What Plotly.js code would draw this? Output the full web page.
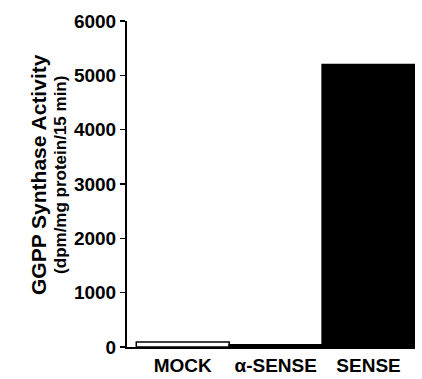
<!DOCTYPE html>
<html>
<head>
<meta charset="utf-8">
<script src="https://cdn.plot.ly/plotly-3.0.1.min.js"></script>
<style>html,body{margin:0;padding:0;background:#fff;}#chart{width:422px;height:379px;}</style>
</head>
<body>
<div id="chart"></div>
<script>
const categories = ["MOCK", "\u03B1-SENSE", "SENSE"];
const activity = [90, 40, 5200];
const fillColors = ["#ffffff", "#000000", "#000000"];
const yTickValues = [0, 1000, 2000, 3000, 4000, 5000, 6000];
const yTitleMain = "GGPP Synthase Activity";
const yTitleSub = "(dpm/mg protein/15 min)";

const fontFam = "Arial, 'Liberation Sans', Helvetica, sans-serif";

const trace = {
  type: "bar",
  x: categories,
  y: activity,
  width: 1,
  marker: { color: fillColors, line: { color: "#000", width: 1.5 } },
  hoverinfo: "none"
};

const layout = {
  width: 422, height: 379,
  margin: { l: 127, r: 7, t: 21, b: 32, pad: 0 },
  paper_bgcolor: "#fff", plot_bgcolor: "#fff",
  showlegend: false,
  bargap: 0,
  font: { family: fontFam, color: "#000" },
  xaxis: {
    type: "category",
    range: [-0.6, 2.5],
    showline: true, linecolor: "#000", linewidth: 2,
    ticks: "", showgrid: false, zeroline: false,
    ticklabelstandoff: 0,
    tickfont: { family: fontFam, size: 19, weight: "bold", color: "#000" }
  },
  yaxis: {
    range: [0, 6000],
    tickvals: yTickValues,
    ticktext: yTickValues.map(String),
    showline: true, linecolor: "#000", linewidth: 2,
    ticks: "outside", ticklen: 5, tickwidth: 1.5, tickcolor: "#000",
    showgrid: false, zeroline: false,
    tickfont: { family: fontFam, size: 19, weight: "bold", color: "#000" }
  },
  annotations: [
    { text: yTitleMain, xref: "paper", yref: "paper", x: -0.305, y: 0.528,
      xanchor: "center", yanchor: "middle", textangle: -90, showarrow: false,
      font: { family: fontFam, size: 21, weight: "bold", color: "#000" } },
    { text: yTitleSub, xref: "paper", yref: "paper", x: -0.229, y: 0.528,
      xanchor: "center", yanchor: "middle", textangle: -90, showarrow: false,
      font: { family: fontFam, size: 17, weight: "bold", color: "#000" } }
  ]
};

Plotly.newPlot("chart", [trace], layout, { staticPlot: true, displayModeBar: false });
</script>
</body>
</html>
